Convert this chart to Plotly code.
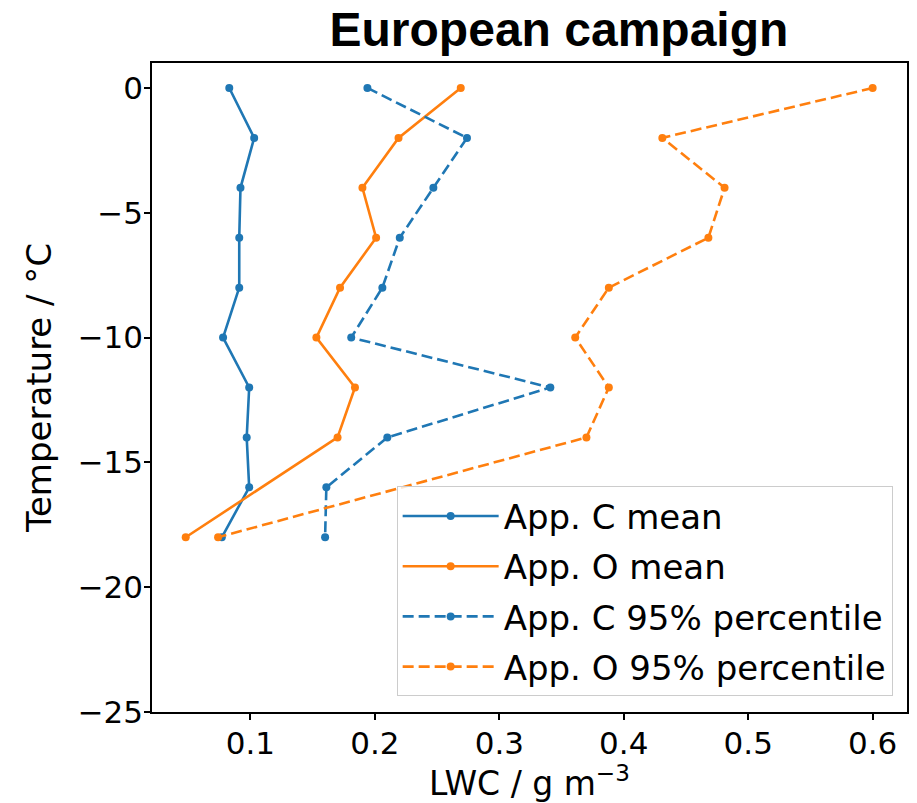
import plotly.graph_objects as go

# Temperature levels (°C)
temp_all = [0, -2, -4, -6, -8, -10, -12, -14, -16, -18]
temp_o = [0, -2, -4, -6, -8, -10, -12, -14, -18]

# Liquid water content (g m^-3)
app_c_mean = [0.083, 0.103, 0.092, 0.091, 0.091, 0.078, 0.099, 0.097, 0.099, 0.077]
app_o_mean = [0.269, 0.219, 0.190, 0.201, 0.172, 0.153, 0.184, 0.170, 0.048]
app_c_p95 = [0.194, 0.274, 0.247, 0.220, 0.206, 0.181, 0.341, 0.210, 0.161, 0.160]
app_o_p95 = [0.600, 0.431, 0.481, 0.468, 0.388, 0.361, 0.388, 0.370, 0.074]

x_ticks = [0.1, 0.2, 0.3, 0.4, 0.5, 0.6]
y_ticks = [0, -5, -10, -15, -20, -25]

BLUE = "#1f77b4"
ORANGE = "#ff7f0e"
FONT = "DejaVu Sans"
DASH = "11px,5px"

series = [
    ("App. C mean", app_c_mean, temp_all, BLUE, "solid"),
    ("App. O mean", app_o_mean, temp_o, ORANGE, "solid"),
    ("App. C 95% percentile", app_c_p95, temp_all, BLUE, DASH),
    ("App. O 95% percentile", app_o_p95, temp_o, ORANGE, DASH),
]

fig = go.Figure()
for i, (name, xs, ys, color, dash) in enumerate(series):
    fig.add_trace(go.Scatter(
        x=xs, y=ys, name=name, mode="lines+markers",
        line=dict(color=color, width=2.6, dash=dash),
        marker=dict(color=color, size=8),
        legendgroup=f"g{i}",
    ))

axis_common = dict(
    showline=True, linecolor="black", linewidth=1.5, mirror=True,
    ticks="outside", ticklen=6, tickwidth=1.5, tickcolor="black",
    showgrid=False, zeroline=False,
    tickfont=dict(family=FONT, size=31, color="black"),
)

fig.update_layout(
    width=917, height=803,
    margin=dict(l=152, r=8, t=63, b=91),
    paper_bgcolor="white", plot_bgcolor="white",
    title=dict(
        text="<b>European campaign</b>",
        font=dict(family="Liberation Sans, Arial", size=48, color="black"),
        x=(560 - 152) / 757, xref="paper", xanchor="center",
        y=1 - 29 / 803, yref="container", yanchor="middle",
    ),
    xaxis=dict(
        range=[0.0209, 0.6276], tickvals=x_ticks,
        ticktext=[f"{v:.1f}" for v in x_ticks],
        ticklabelstandoff=-3,
        title=dict(text="LWC / g m<sup>\u22123</sup>",
                   font=dict(family=FONT, size=33, color="black"), standoff=8),
        **axis_common,
    ),
    yaxis=dict(
        range=[-25, 1], tickvals=y_ticks,
        ticklabelstandoff=-5,
        title=dict(text="Temperature / °C",
                   font=dict(family=FONT, size=34, color="black"), standoff=16),
        **axis_common,
    ),
    legend=dict(
        x=0.981, y=0.024, xanchor="right", yanchor="bottom",
        bgcolor="rgba(255,255,255,0.8)", bordercolor="#cccccc", borderwidth=1,
        font=dict(family=FONT, size=34, color="black"),
        tracegroupgap=3, itemwidth=96,
    ),
    showlegend=True,
)

fig.write_html("out.html")
